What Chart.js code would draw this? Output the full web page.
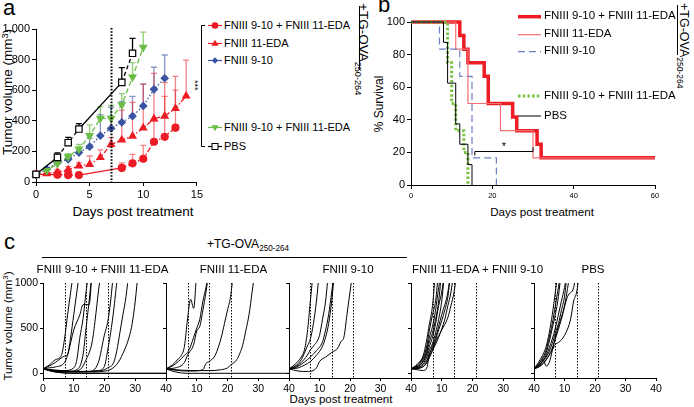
<!DOCTYPE html>
<html>
<head>
<meta charset="utf-8">
<script src="https://cdn.jsdelivr.net/npm/chart.js@4.4.1/dist/chart.umd.min.js"></script>
<style>
body{margin:0;background:#fff}
#fig{position:relative;width:694px;height:407px;overflow:hidden;background:#fff;font-family:"Liberation Sans",Arial,Helvetica,sans-serif;color:#000}
#fig canvas{position:absolute}
.t{position:absolute;white-space:nowrap;line-height:1}
.c{transform:translate(-50%,-50%)}
.v{transform:translate(-50%,-50%) rotate(-90deg)}
.r90{transform-origin:0 0;transform:rotate(90deg)}
.ln{position:absolute;background:#000}
sub{font-size:0.68em;vertical-align:-0.4em;line-height:0}
sup{font-size:0.68em;vertical-align:0.5em;line-height:0}
#deco{position:absolute;left:0;top:0}
</style>
</head>
<body>
<div id="fig">
<svg id="deco" width="694" height="407"></svg>

<div class="t" style="left:3px;top:-3px;font-size:22px">a</div>
<div class="t" style="left:378px;top:-6px;font-size:22px">b</div>
<div class="t" style="left:4px;top:231px;font-size:22px">c</div>

<div class="t v" style="left:8px;top:92px;font-size:13.5px">Tumor volume (mm<sup>3</sup>)</div>
<div class="t c" style="left:133px;top:212px;font-size:13.5px">Days post treatment</div>
<div class="t r90" style="left:199px;top:80px;font-size:9px">***</div>

<div class="ln" style="left:359px;top:6px;width:1px;height:64px"></div>
<div class="t r90" style="left:370px;top:3px;font-size:13.5px">+TG-OVA<sub>250-264</sub></div>

<div class="t v" style="left:379px;top:104px;font-size:12px">% Survival</div>
<div class="t c" style="left:542px;top:212px;font-size:11.6px">Days post treatment</div>
<div class="ln" style="left:677px;top:5px;width:1px;height:50px"></div>
<div class="t r90" style="left:690px;top:3px;font-size:12.5px">+TG-OVA<sub>250-264</sub></div>

<div class="t" style="left:207px;top:238px;font-size:12px">+TG-OVA<sub>250-264</sub></div>
<div class="ln" style="left:42px;top:257px;width:365px;height:1px"></div>
<div class="t v" style="left:8px;top:326px;font-size:11.7px">Tumor volume (mm<sup>3</sup>)</div>
<div class="t c" style="left:341px;top:400px;font-size:11.5px">Days post treatment</div>
</div>

<script>
// ---- panel a: mean tumour volume with upper SEM ----
const aDaysCircle=[0,2,3,4,8,9,10,11,12,13];
const aMeanCircle=[50,48,45,45,92,122,152,263,295,355];
const aSemCircle=[55,62,60,58,125,180,240,400,560,690];
const aDaysTri=[0,1,2,3,4,5,6,7,8,9,10,11,12,13,14];
const aMeanTri=[50,55,65,80,105,115,160,245,275,300,353,413,431,481,562];
const aSemTri=[55,65,80,100,125,170,210,290,470,520,640,710,650,600,797];
const aDaysDia=[0,1,2,3,4,5,6,7,8,9,10,11,12];
const aMeanDia=[50,83,126,148,192,231,303,350,390,430,497,606,678];
const aSemDia=[55,95,140,165,215,285,440,488,525,560,640,750,830];
const aDaysInv=[0,1,2,3,4,5,6,7,8,9,10];
const aMeanInv=[50,75,120,165,215,303,416,416,505,686,880];
const aSemInv=[55,85,135,185,245,373,492,500,578,780,980];
const aDaysPBS=[0,2,3,4,8,9];
const aMeanPBS=[50,161,257,346,651,841];
const aSemPBS=[55,191,292,381,747,939];
const aLabels=["FNIII 9-10 + FNIII 11-EDA","FNIII 11-EDA","FNIII 9-10","FNIII 9-10 + FNIII 11-EDA","PBS"];

// ---- panel b: survival (%) ----
const bDaysRedThick=[0,12,13,14,18,19,25,26,31,32,60];
const bSurvRedThick=[100,91.7,83.3,75,66.7,50,41.7,33.3,25,16.7,16.7];
const bDaysRedThin=[0,11,14,22,30,60];
const bSurvRedThin=[100,83.3,50,33.3,16.7,16.7];
const bDaysBlue=[0,7,12,15,21];
const bSurvBlue=[100,83.3,66.7,16.7,0];
const bDaysGreen=[0,9,10,11,13,14];
const bSurvGreen=[100,75,50,33.3,20,0];
const bDaysPBS=[0,8,9,11,12,14,15];
const bSurvPBS=[100,87.5,62.5,37.5,25,12.5,0];
const bLabels=["FNIII 9-10 + FNIII 11-EDA","FNIII 11-EDA","FNIII 9-10","FNIII 9-10 + FNIII 11-EDA","PBS"];
const bSigDays=[15.7,30];
const bSigLevel=21;

// ---- panel c: individual mice [day, volume] ----
const cMice1=[
 [[0,50],[2,90],[4,150],[6,200],[7,380],[8,650],[9,900],[10,1150]],
 [[0,50],[2,80],[4,120],[7,190],[8,210],[9,400],[10,650],[11,900],[12,1150]],
 [[0,50],[2,60],[4,70],[7,120],[8,200],[10,480],[12,650],[13,760],[15,760],[16,1150]],
 [[0,50],[3,30],[7,30],[10,60],[11,150],[12,400],[13,600],[14,900],[15,1150]],
 [[0,50],[4,30],[8,20],[11,40],[13,200],[14,500],[15,800],[16,1150]],
 [[0,50],[4,25],[9,20],[12,40],[14,150],[16,350],[17,600],[18,900],[19,1150]],
 [[0,50],[5,20],[10,15],[15,20],[18,120],[20,430],[21,560],[22,800],[23,1150]],
 [[0,50],[5,20],[12,20],[18,30],[20,80],[21,250],[22,450],[23,700],[24,1000],[25,1150]],
 [[0,50],[6,30],[14,20],[20,40],[21,60],[23,120],[24,250],[25,450],[26,650],[27,850],[28,1150]],
 [[0,50],[6,20],[15,15],[21,30],[24,100],[26,220],[28,400],[29,550],[30,800],[31,1150]],
 [[0,50],[3,20],[7,5],[10,0],[40,0]],
 [[0,50],[4,15],[8,2],[12,0],[40,0]]
];
const cMice2=[
 [[0,50],[2,90],[4,160],[5,200],[6,300],[7,600],[8,820],[9,720],[10,1150]],
 [[0,50],[2,80],[4,130],[6,200],[7,230],[8,300],[9,400],[10,500],[11,600],[12,800],[13,950],[14,1150]],
 [[0,50],[3,60],[6,120],[7,200],[9,320],[10,470],[11,520],[12,700],[13,900],[14,1150]],
 [[0,50],[4,30],[8,25],[12,40],[13,110],[14,130],[16,200],[18,400],[19,550],[20,700],[21,850],[22,1150]],
 [[0,50],[5,35],[10,30],[14,30],[18,40],[20,60],[21,90],[23,150],[24,220],[25,320],[26,480],[27,650],[28,900],[29,1150]],
 [[0,50],[3,15],[7,0],[40,0]]
];
const cMice3=[
 [[0,50],[2,100],[4,180],[5,250],[6,450],[7,800],[8,1150]],
 [[0,50],[2,80],[4,150],[6,300],[7,380],[8,550],[9,800],[10,1150]],
 [[0,50],[2,70],[4,120],[6,200],[7,260],[8,300],[10,420],[11,600],[12,800],[13,1150]],
 [[0,50],[2,60],[4,100],[6,150],[7,180],[9,250],[11,350],[12,480],[13,650],[14,900],[15,1150]],
 [[0,50],[3,60],[5,90],[7,130],[9,200],[11,300],[12,400],[13,550],[14,800],[15,1150]],
 [[0,50],[3,25],[6,20],[9,60],[10,130],[12,180],[14,230],[16,280],[17,350],[18,400],[19,650],[20,900],[21,1150]]
];
const cMice4=[
 [[0,50],[2,100],[4,200],[5,350],[6,550],[7,750],[8,1150]],
 [[0,50],[2,90],[4,180],[5,280],[6,480],[7,650],[8,800],[9,1150]],
 [[0,50],[2,80],[4,160],[5,250],[6,400],[7,520],[8,700],[9,950],[10,1150]],
 [[0,50],[2,70],[4,140],[5,220],[6,350],[7,450],[8,600],[9,800],[10,1150]],
 [[0,50],[2,70],[4,130],[5,200],[6,300],[7,400],[8,550],[9,750],[10,900],[11,1150]],
 [[0,50],[2,60],[4,110],[5,170],[6,260],[7,330],[8,450],[9,600],[10,800],[11,1150]],
 [[0,50],[2,40],[4,30],[5,50],[6,200],[7,310],[8,400],[10,650],[12,900],[13,1150]],
 [[0,50],[3,60],[5,120],[6,230],[7,280],[9,480],[11,700],[12,850],[13,1150]],
 [[0,50],[3,60],[5,110],[7,250],[9,400],[11,600],[12,750],[13,900],[14,1150]],
 [[0,50],[3,70],[5,140],[7,260],[8,350],[10,480],[12,620],[13,750],[14,900],[15,1150]]
];
const cMice5=[
 [[0,50],[2,150],[4,300],[5,450],[6,650],[7,900],[8,1150]],
 [[0,50],[2,130],[4,260],[5,400],[6,550],[7,750],[8,950],[9,1150]],
 [[0,50],[2,120],[4,230],[5,350],[6,500],[7,650],[8,850],[9,1150]],
 [[0,50],[2,100],[4,200],[6,380],[7,500],[8,650],[9,800],[10,950],[11,1150]],
 [[0,50],[2,100],[4,180],[6,330],[7,450],[8,550],[9,700],[10,850],[11,1150]],
 [[0,50],[2,90],[3,150],[4,80],[5,120],[6,250],[7,400],[8,520],[10,750],[12,1150]],
 [[0,50],[2,80],[4,150],[6,280],[7,380],[9,600],[11,850],[13,950],[14,1150]],
 [[0,50],[2,80],[4,150],[6,260],[7,320],[8,340],[10,420],[12,600],[13,800],[14,900],[15,1150]]
];
const cTitles=["FNIII 9-10 + FNIII 11-EDA","FNIII 11-EDA","FNIII 9-10","FNIII 11-EDA + FNIII 9-10","PBS"];
const cWeeks=[7,14,21];

const FONT='"Liberation Sans", Arial, Helvetica, sans-serif';
Chart.defaults.font.family=FONT;
Chart.defaults.color='#000';
const fig=document.getElementById('fig');
const deco=document.getElementById('deco');
const RED='#ed1c24', BLUE='#3a53a4', GREEN='#6abd45';

function mk(left,top,w,h){
  const c=document.createElement('canvas');
  c.width=w;c.height=h;
  c.style.left=left+'px';c.style.top=top+'px';c.style.width=w+'px';c.style.height=h+'px';
  fig.appendChild(c);
  return c;
}
function txt(s,left,top,size,cls){
  const d=document.createElement('div');
  d.className='t '+(cls||'');
  d.style.left=left+'px';d.style.top=top+'px';d.style.fontSize=size+'px';
  d.textContent=s;fig.appendChild(d);
}
function svg(tag,attrs){
  const e=document.createElementNS('http://www.w3.org/2000/svg',tag);
  for(const k in attrs) e.setAttribute(k,attrs[k]);
  deco.appendChild(e);
}
function axis(min,max,step,size,fit,tick){
  return {type:'linear',min:min,max:max,
    ticks:{stepSize:step,color:'#000',font:{size:size,family:FONT},padding:2,maxRotation:0,autoSkip:false},
    grid:{drawOnChartArea:false,drawTicks:true,tickLength:tick||4,color:'#000',lineWidth:1},
    border:{display:true,color:'#000',width:1},
    afterFit:fit};
}
const base={responsive:false,devicePixelRatio:1,animation:false,events:[],
  plugins:{legend:{display:false},tooltip:{enabled:false}}};

// error bars (upper SEM only) and the day-7 treatment line
const errBars={id:'errBars',beforeDatasetsDraw(chart){
  const {ctx,scales:{x,y}}=chart;
  chart.data.datasets.forEach(ds=>{
    ctx.save();ctx.strokeStyle=ds.errColor;ctx.lineWidth=1.3;
    ds.data.forEach((p,i)=>{
      const px=x.getPixelForValue(p.x),py=y.getPixelForValue(p.y),pt=y.getPixelForValue(ds.sem[i]);
      ctx.beginPath();ctx.moveTo(px,py);ctx.lineTo(px,pt);ctx.moveTo(px-3,pt);ctx.lineTo(px+3,pt);ctx.stroke();
    });
    ctx.restore();
  });
}};
const day7={id:'day7',afterDatasetsDraw(chart){
  const {ctx,scales:{x,y}}=chart;
  const px=Math.round(x.getPixelForValue(7))+0.5;
  ctx.save();ctx.strokeStyle='#000';ctx.lineWidth=2;ctx.setLineDash([1.6,1.6]);
  ctx.beginPath();ctx.moveTo(px,y.getPixelForValue(1000)-1);ctx.lineTo(px,y.getPixelForValue(0));ctx.stroke();
  ctx.restore();
}};

const aSeries=[
  {days:aDaysPBS,mean:aMeanPBS,sem:aSemPBS,color:'#000',err:'#000',fill:'#fff',shape:'rect',rot:0,r:4.5,dash:[4,3]},
  {days:aDaysInv,mean:aMeanInv,sem:aSemInv,color:GREEN,err:'rgba(106,189,69,0.75)',fill:GREEN,shape:'triangle',rot:180,r:4,dash:[5,3]},
  {days:aDaysDia,mean:aMeanDia,sem:aSemDia,color:BLUE,err:'rgba(58,83,164,0.6)',fill:BLUE,shape:'rectRot',rot:0,r:3.5,dash:[1.5,2]},
  {days:aDaysTri,mean:aMeanTri,sem:aSemTri,color:RED,err:'rgba(237,28,36,0.55)',fill:RED,shape:'triangle',rot:0,r:4,dash:[5,2,1.5,2]},
  {days:aDaysCircle,mean:aMeanCircle,sem:aSemCircle,color:RED,err:'rgba(237,28,36,0.55)',fill:RED,shape:'circle',rot:0,r:3.5,dash:[5,2,1.5,2]}
];
new Chart(mk(0,0,205,225),{type:'line',
  data:{datasets:aSeries.map(s=>({
    data:s.days.map((d,i)=>({x:d,y:s.mean[i]})),sem:s.sem,errColor:s.err,
    borderColor:s.color,backgroundColor:s.fill,pointBackgroundColor:s.fill,pointBorderColor:s.color,
    pointStyle:s.shape,pointRotation:s.rot,pointRadius:s.r,pointBorderWidth:1.2,borderWidth:1.3,clip:false,
    segment:{borderDash:ctx=>(ctx.p1.parsed.x-ctx.p0.parsed.x>1.5?[]:s.dash)}
  }))},
  options:Object.assign({},base,{layout:{padding:{top:29,right:6,left:0,bottom:0}},
    scales:{x:axis(0,15,5,11,s=>{s.height=43;}),y:axis(0,1000,200,11,s=>{s.width=36;})}}),
  plugins:[errBars,day7]
});

// panel a legend
const aLegY=[25.5,43.5,60.5,127.5,146.5];
const aLegIdx=[4,3,2,1,0];
aLegY.forEach((yy,k)=>{
  const s=aSeries[aLegIdx[k]];
  svg('line',{x1:208,y1:yy,x2:222,y2:yy,stroke:s.color,'stroke-width':1.2});
  const cx=215;
  if(s.shape==='circle') svg('circle',{cx:cx,cy:yy,r:3.3,fill:s.fill});
  else if(s.shape==='triangle'&&s.rot===0) svg('polygon',{points:`${cx},${yy-3.8} ${cx+3.6},${yy+2.2} ${cx-3.6},${yy+2.2}`,fill:s.fill});
  else if(s.shape==='triangle') svg('polygon',{points:`${cx},${yy+3.8} ${cx+3.6},${yy-2.2} ${cx-3.6},${yy-2.2}`,fill:s.fill});
  else if(s.shape==='rectRot') svg('polygon',{points:`${cx},${yy-3.2} ${cx+3.2},${yy} ${cx},${yy+3.2} ${cx-3.2},${yy}`,fill:s.fill});
  else svg('rect',{x:cx-3,y:yy-3,width:6,height:6,fill:'#fff',stroke:'#000','stroke-width':1});
  txt(aLabels[k],224,yy-6,11);
});
svg('polyline',{points:'205,25.5 201.5,25.5 201.5,146.5 205,146.5',fill:'none',stroke:'#000','stroke-width':1});

// ---- panel b ----
const bSeries=[
  {d:bDaysPBS,s:bSurvPBS,color:'#000',w:1,dash:[]},
  {d:bDaysBlue,s:bSurvBlue,color:'#6d80c6',w:1.2,dash:[7,4]},
  {d:bDaysGreen,s:bSurvGreen,color:'#79c244',w:3,dash:[2.5,2.2]},
  {d:bDaysRedThin,s:bSurvRedThin,color:'#f26f72',w:1.2,dash:[]},
  {d:bDaysRedThick,s:bSurvRedThick,color:'#ee1c25',w:3.5,dash:[]}
];
const sigPlugin={id:'sig',afterDatasetsDraw(chart){
  const {ctx,scales:{x,y}}=chart;
  const x0=x.getPixelForValue(bSigDays[0]),x1=x.getPixelForValue(bSigDays[1]),yy=Math.round(y.getPixelForValue(bSigLevel))+0.5;
  ctx.save();ctx.strokeStyle='#000';ctx.lineWidth=1;
  ctx.beginPath();ctx.moveTo(x0,yy+4);ctx.lineTo(x0,yy);ctx.lineTo(x1,yy);ctx.lineTo(x1,yy-4);ctx.stroke();
  ctx.fillStyle='#000';ctx.font='11px '+FONT;ctx.textAlign='center';
  ctx.fillText('*',(x0+x1)/2,yy-2);
  ctx.restore();
}};
new Chart(mk(370,0,300,225),{type:'line',
  data:{datasets:bSeries.map(s=>({data:s.d.map((d,i)=>({x:d,y:s.s[i]})),stepped:true,
    borderColor:s.color,borderWidth:s.w,borderDash:s.dash,pointRadius:0,clip:false,fill:false}))},
  options:Object.assign({},base,{layout:{padding:{top:22,right:15,left:0,bottom:0}},
    scales:{x:axis(0,60,20,7.5,s=>{s.height=40;}),y:axis(0,100,20,11,s=>{s.width=41;})}}),
  plugins:[sigPlugin]
});
const bLegY=[16.7,34.7,51.7,96,116];
const bLegIdx=[4,3,1,2,0];
bLegY.forEach((yy,k)=>{
  const s=bSeries[bLegIdx[k]];
  const a={x1:518,y1:yy,x2:541,y2:yy,stroke:s.color,'stroke-width':s.w};
  if(s.dash.length) a['stroke-dasharray']=s.dash.join(',');
  svg('line',a);
  txt(bLabels[k],544,yy-6.5,11.5);
});

// ---- panel c ----
const cPanels=[cMice1,cMice2,cMice3,cMice4,cMice5];
const cEdges=[43,166,289,411,534,656];
const weekLines={id:'weeks',afterDatasetsDraw(chart){
  const {ctx,chartArea,scales:{x}}=chart;
  ctx.save();ctx.strokeStyle='#000';ctx.lineWidth=1;ctx.setLineDash([1.5,1.5]);
  cWeeks.forEach(d=>{const px=Math.round(x.getPixelForValue(d))+0.5;
    ctx.beginPath();ctx.moveTo(px,chartArea.top);ctx.lineTo(px,chartArea.bottom);ctx.stroke();});
  ctx.restore();
}};
cPanels.forEach((mice,p)=>{
  const L=cEdges[p],W=cEdges[p+1]-L;
  const xs=axis(0,40,10,10.5,s=>{s.height=22;},3);
  xs.ticks.callback=v=>(p>0&&v===0)?'':v;
  const ys=axis(-52,1000,500,10.5,s=>{s.width=40;},3);
  ys.afterBuildTicks=s=>{s.ticks=[0,500,1000].map(v=>({value:v}));};
  ys.ticks.callback=v=>p===0?v:'';
  new Chart(mk(L-40,270,W+50,130),{type:'line',
    data:{datasets:mice.map(m=>({data:m.map(q=>({x:q[0],y:q[1]})),borderColor:'#000',borderWidth:1,
      pointRadius:0,cubicInterpolationMode:'monotone',fill:false}))},
    options:Object.assign({},base,{layout:{padding:{top:13,right:10,left:0,bottom:0}},scales:{x:xs,y:ys}}),
    plugins:[weekLines]
  });
  txt(cTitles[p],(L+W/2)+ (p===0?-2:p===1?6:p===3?5:-2),270,11.5,'c');
});
</script>
</body>
</html>
